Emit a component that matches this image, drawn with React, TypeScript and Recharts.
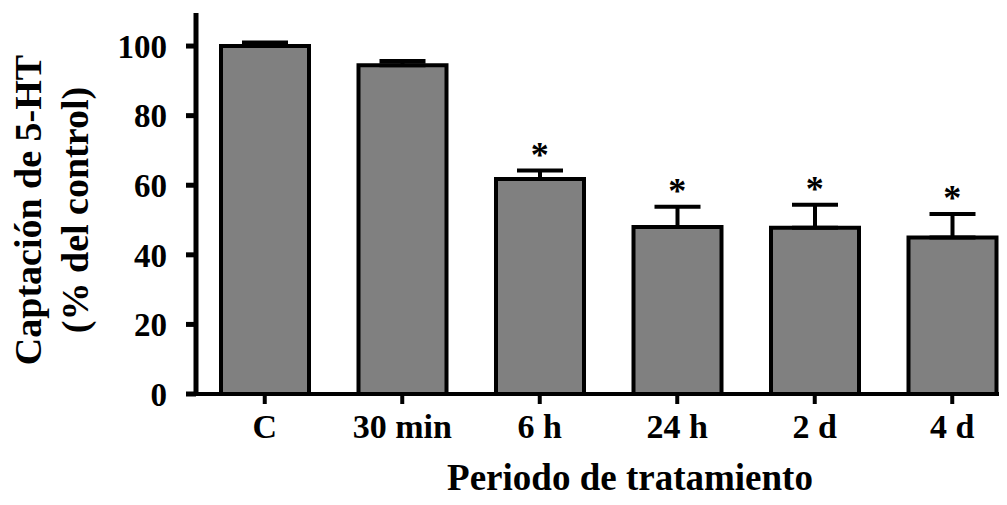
import {
  ComposedChart, Bar, Scatter, ErrorBar, XAxis, YAxis,
} from 'recharts';

const periodos = ['C', '30 min', '6 h', '24 h', '2 d', '4 d'];
const captacion = [100, 94.5, 61.8, 48, 47.8, 45];
const errores = [1, 1.2, 2.4, 5.8, 6.6, 6.7];
const significativo = [false, false, true, true, true, true];
const yTicks = [0, 20, 40, 60, 80, 100];

const data = periodos.map((p, i) => ({
  name: p,
  valor: captacion[i],
  err: [0, errores[i]],
  star: significativo[i] ? captacion[i] + errores[i] : null,
}));

const FONT = '"Liberation Serif", "Times New Roman", serif';

const xTickStyle = { fontFamily: FONT, fontWeight: 'bold', fontSize: 34, fill: '#000' };
const yTickStyle = { fontFamily: FONT, fontWeight: 'bold', fontSize: 33, fill: '#000' };

const Asterisco = (props: any) => {
  const { cx, cy, payload } = props;
  if (payload.star == null) return <g />;
  return (
    <text x={cx} y={cy - 4} textAnchor="middle" fontFamily={FONT} fontWeight="bold" fontSize={36} fill="#000">
      *
    </text>
  );
};

const EtiquetaY = () => (
  <g fontFamily={FONT} fontWeight="bold" fontSize={38} fill="#000">
    <text transform="translate(20,202) rotate(-90)" textAnchor="middle" dominantBaseline="central">
      Captación de 5-HT
    </text>
    <text transform="translate(67,202) rotate(-90)" textAnchor="middle" dominantBaseline="central">
      (% del control)
    </text>
  </g>
);

export default function App() {
  return (
    <div style={{ width: 999, height: 497 }}>
      <ComposedChart width={999} height={497} data={data} margin={{ top: 5, right: 4, left: 0, bottom: 0 }}>
        <XAxis
          dataKey="name"
          height={111}
          padding={{ left: 0, right: -18 }}
          axisLine={{ stroke: '#000', strokeWidth: 4 }}
          tickLine={{ stroke: '#000', strokeWidth: 4 }}
          tickSize={10}
          tickMargin={10}
          tick={xTickStyle}
          interval={0}
        />
        <YAxis
          width={188}
          domain={[0, 109.5]}
          ticks={yTicks}
          allowDataOverflow
          axisLine={{ stroke: '#000', strokeWidth: 5 }}
          tickLine={{ stroke: '#000', strokeWidth: 5 }}
          tickSize={10}
          tickMargin={19}
          tick={yTickStyle}
        />
        <Bar dataKey="valor" barSize={88} fill="#808080" stroke="#000" strokeWidth={4} isAnimationActive={false}>
          <ErrorBar dataKey="err" width={23} stroke="#000" strokeWidth={4} direction="y" />
        </Bar>
        <Scatter dataKey="star" shape={<Asterisco />} isAnimationActive={false} />
        <EtiquetaY />
        <text x={622} y={482} textAnchor="middle" fontFamily={FONT} fontWeight="bold" fontSize={37} fill="#000">
          Periodo de tratamiento
        </text>
      </ComposedChart>
    </div>
  );
}
